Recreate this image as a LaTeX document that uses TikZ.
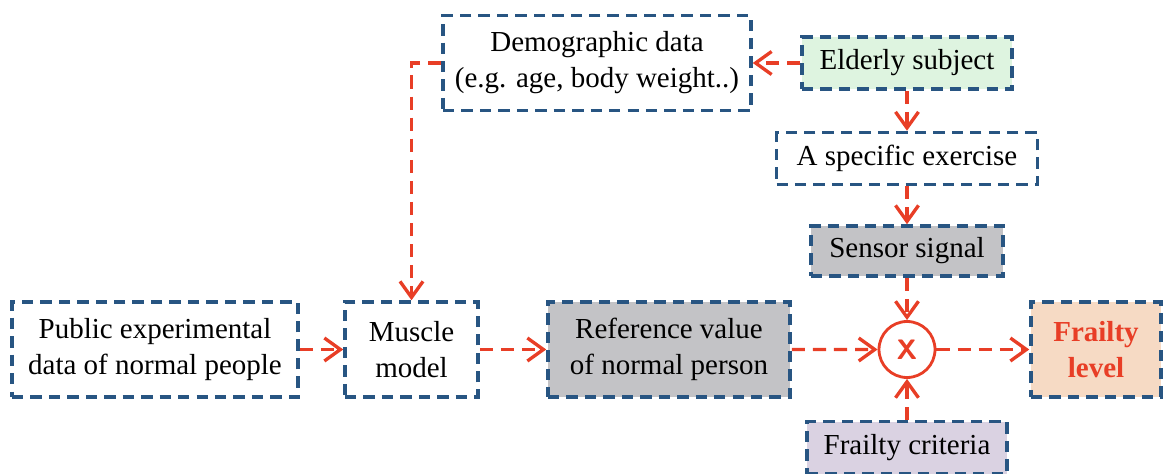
\documentclass[tikz,border=0pt]{standalone}
\usepackage{fontspec}
\setmainfont{Liberation Serif}
\usepackage{tikz}
\usetikzlibrary{arrows.meta, shapes, positioning}

\definecolor{boxblue}{RGB}{40,85,130}
\definecolor{flowred}{RGB}{232,62,38}
\definecolor{sigfill}{RGB}{195,195,198}
\definecolor{subjfill}{RGB}{222,244,224}
\definecolor{levelfill}{RGB}{246,218,196}
\definecolor{critfill}{RGB}{218,210,226}

\tikzset{
	block/.style={draw=boxblue, line width=2pt, dash pattern=on 6.5pt off 4pt,
		align=center, inner sep=2pt, minimum height=1.9cm,
		font=\fontsize{16.5}{20.5}\selectfont},
	thin block/.style={block, minimum height=1.04cm},
	flow/.style={draw=flowred, line width=1.9pt, dash pattern=on 7.5pt off 4.5pt,
		-{Straight Barb[length=3.2mm,width=4.6mm,line width=1.9pt]}, shorten >=0pt},
	mult/.style={circle, draw=flowred, line width=1.6pt, minimum size=1.12cm, inner sep=0pt,
		text=flowred, font=\fontsize{16}{16}\sffamily\bfseries}
}

\begin{document}
\begin{tikzpicture}[node distance=2cm,on grid]
	\useasboundingbox (0,0) rectangle (23.26,9.46);

	\node[block, minimum width=5.72cm] (public) at (3.10,2.47) {Public experimental\\data of normal people};
	\node[block, minimum width=2.66cm, right = 5.13 of public] (muscle) {Muscle\\model};
	\node[block, minimum width=4.84cm, fill=sigfill, right = 5.15 of muscle] (reference) {Reference value\\of normal person};
	\node[block, minimum width=6.16cm] (demo) at (11.94,8.2) {Demographic data\\(e.g. age, body weight..)};

	\node[thin block, minimum width=4.2cm, fill=subjfill] (subject) at (18.14,8.2) {Elderly subject};
	\node[thin block, minimum width=5.22cm, below = 1.91 of subject] (exercise) {A specific exercise};
	\node[thin block, minimum width=3.84cm, minimum height=1.0cm, fill=sigfill, below = 1.85 of exercise] (sensor) {Sensor signal};
	\node[mult, below = 1.97 of sensor] (x) {X};
	\node[thin block, minimum width=4.0cm, fill=critfill, below = 1.96 of x] (criteria) {Frailty criteria};
	\node[block, minimum width=2.6cm, fill=levelfill, right = 3.78 of x,
		text=flowred, font=\fontsize{16.5}{20.5}\selectfont\bfseries] (level) {Frailty\\level};

	\path[flow] (public) edge (muscle)
	(muscle) edge (reference)
	(reference) edge (x)
	(x) edge (level)
	(subject) edge (demo)
	(subject) edge (exercise)
	(exercise) edge (sensor)
	(sensor) edge (x)
	(criteria) edge (x);
	\draw[flow] (demo.west) -| (muscle.north);
\end{tikzpicture}
\end{document}
